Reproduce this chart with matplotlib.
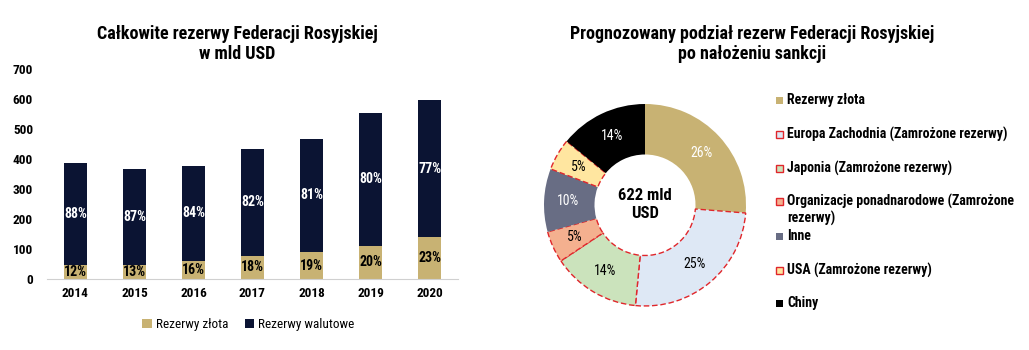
import matplotlib
matplotlib.use('Agg')
from matplotlib import pyplot as plt
from matplotlib.patches import Rectangle

plt.rcParams['font.family'] = ['Roboto Condensed', 'DejaVu Sans']

# reserves in bln USD
years = ['2014', '2015', '2016', '2017', '2018', '2019', '2020']
gold = [46, 48, 60, 78, 89, 111, 139]
total = [386, 368, 377, 433, 468, 555, 596]
fx = [t - g for t, g in zip(total, gold)]

# projected split after sanctions, % of total
split_labels = ['Rezerwy złota', 'Europa Zachodnia (Zamrożone rezerwy)', 'Japonia (Zamrożone rezerwy)',
                'Organizacje ponadnarodowe (Zamrożone\nrezerwy)', 'Inne', 'USA (Zamrożone rezerwy)', 'Chiny']
split_values = [26, 25, 14, 5, 10, 5, 14]
frozen = [False, True, True, True, False, True, False]
total_usd = 622

GOLD = '#C8B273'
NAVY = '#0B1433'
split_colors = [GOLD, '#DEE8F5', '#CBE3BC', '#F4B08F', '#686D84', '#FFE6A0', '#000000']
label_colors = ['white', 'black', 'black', 'black', 'white', 'black', 'white']
RED = '#E0262B'

fig = plt.figure(figsize=(10.29, 3.5), dpi=100)

# ---- stacked bars
ax = fig.add_axes([47 / 1029, 1 - 279 / 350, 411 / 1029, 210 / 350])
x = range(len(years))
ax.bar(x, gold, width=0.39, color=GOLD, label='Rezerwy złota')
ax.bar(x, fx, width=0.39, bottom=gold, color=NAVY, label='Rezerwy walutowe')
for i in x:
    ax.text(i, gold[i] / 2, '{:.0f}%'.format(100 * gold[i] / total[i]), ha='center', va='center',
            fontsize=10, fontweight='bold', color='black')
    ax.text(i, gold[i] + fx[i] / 2, '{:.0f}%'.format(100 * fx[i] / total[i]), ha='center', va='center',
            fontsize=10, fontweight='bold', color='white')
ax.set_xlim(-0.48, 6.48)
ax.set_ylim(0, 700)
ax.set_yticks(range(0, 701, 100))
ax.set_xticks(list(x))
ax.set_xticklabels(years)
for s in ['top', 'right', 'left']:
    ax.spines[s].set_visible(False)
ax.spines['bottom'].set_color('#D0D0D0')
ax.tick_params(length=0, labelsize=9.5)
ax.tick_params(axis='y', pad=10)
ax.tick_params(axis='x', pad=6)
for lab in ax.get_xticklabels() + ax.get_yticklabels():
    lab.set_fontweight('bold')
ax.legend(loc='upper center', bbox_to_anchor=(0.49, -0.13), ncol=2, frameon=False, fontsize=9.5,
          handlelength=0.7, handleheight=0.7, handletextpad=0.3, columnspacing=1.3)
fig.text(237 / 1029, 1 - 44 / 350, 'Całkowite rezerwy Federacji Rosyjskiej\nw mld USD', ha='center',
         va='center', fontsize=13, fontweight='bold', linespacing=1.1)

# ---- donut
r_px = 101
pax = fig.add_axes([(645 - r_px) / 1029, (350 - 205 - r_px) / 350, 2 * r_px / 1029, 2 * r_px / 350])
s = sum(split_values)
wedges, texts, autotexts = pax.pie(split_values, colors=split_colors, startangle=90, counterclock=False,
                                   radius=1, wedgeprops=dict(width=0.5, linewidth=0),
                                   autopct=lambda p: '{:.0f}%'.format(p * s / 100), pctdistance=0.76,
                                   textprops=dict(fontsize=10))
for w, fz in zip(wedges, frozen):
    if fz:
        w.set_edgecolor(RED)
        w.set_linewidth(1.0)
        w.set_linestyle((0, (4, 2)))
for t, c in zip(autotexts, label_colors):
    t.set_color(c)
pax.text(0, 0, '{} mld\nUSD'.format(total_usd), ha='center', va='center', fontsize=12,
         fontweight='bold', linespacing=1.25)
pax.set_xlim(-1, 1)
pax.set_ylim(-1, 1)
pax.set_aspect('equal')
pax.axis('off')
fig.text(752 / 1029, 1 - 44 / 350, 'Prognozowany podział rezerw Federacji Rosyjskiej\npo nałożeniu sankcji',
         ha='center', va='center', fontsize=13, fontweight='bold', linespacing=1.1)

# legend for the donut, evenly spaced rows
leg_y = [100, 134, 168, 201, 236, 270, 303]
for lab, col, fz, yy in zip(split_labels, split_colors, frozen, leg_y):
    rect = Rectangle((776 / 1029, 1 - (yy + 4) / 350), 7 / 1029, 7 / 350, transform=fig.transFigure,
                     facecolor=col, edgecolor=RED if fz else col, linewidth=1.0 if fz else 0)
    fig.add_artist(rect)
    if '\n' in lab:
        fig.text(787 / 1029, 1 - (yy - 7.5) / 350, lab, ha='left', va='top', fontsize=10,
                 fontweight='bold', linespacing=1.25)
    else:
        fig.text(787 / 1029, 1 - yy / 350, lab, ha='left', va='center', fontsize=10, fontweight='bold')

fig.savefig('out.png', dpi=100)
